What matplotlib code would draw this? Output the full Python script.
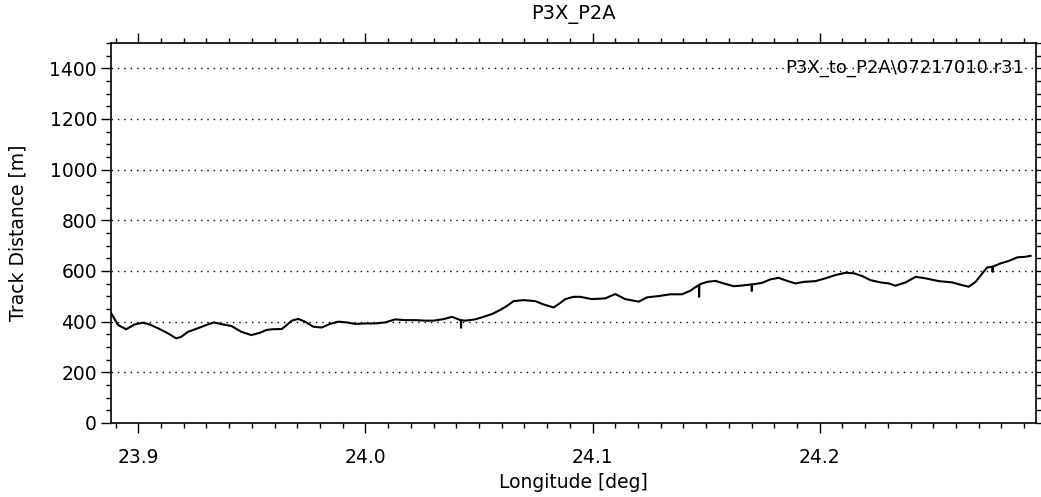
import numpy as np
import matplotlib
matplotlib.use('Agg')
from matplotlib import pyplot as plt
from matplotlib.ticker import MultipleLocator

# traced track (longitude in deg, distance in m)
lon = [23.8881, 23.8911, 23.8947, 23.8984, 23.9021, 23.9050, 23.9087, 23.9131,
       23.9167, 23.9189, 23.9219, 23.9263, 23.9300, 23.9333, 23.9373, 23.9410,
       23.9454, 23.9498, 23.9535, 23.9564, 23.9588, 23.9632, 23.9654, 23.9676,
       23.9705, 23.9734, 23.9771, 23.9808, 23.9844, 23.9881, 23.9918, 23.9955,
       23.9999, 24.0043, 24.0087, 24.0131, 24.0175, 24.0219, 24.0263, 24.0300,
       24.0344, 24.0381, 24.0410, 24.0420, 24.0421, 24.0422, 24.0439, 24.0483,
       24.0520, 24.0557, 24.0593, 24.0623, 24.0652, 24.0696, 24.0748, 24.0784,
       24.0828, 24.0850, 24.0880, 24.0916, 24.0946, 24.0997, 24.1056, 24.1100,
       24.1144, 24.1203, 24.1240, 24.1291, 24.1342, 24.1394, 24.1430, 24.1468,
       24.1469, 24.1470, 24.1474, 24.1504, 24.1540, 24.1577, 24.1621, 24.1651,
       24.1700, 24.1701, 24.1702, 24.1746, 24.1783, 24.1819, 24.1856, 24.1893,
       24.1930, 24.1981, 24.2025, 24.2069, 24.2113, 24.2150, 24.2187, 24.2223,
       24.2267, 24.2304, 24.2333, 24.2378, 24.2422, 24.2466, 24.2524, 24.2583,
       24.2627, 24.2656, 24.2686, 24.2716, 24.2737, 24.2760, 24.2761, 24.2762,
       24.2767, 24.2796, 24.2833, 24.2870, 24.2906, 24.2928]
dist = [433, 387, 370, 389, 396, 389, 374, 354,
        334, 340, 360, 374, 387, 397, 389, 383,
        360, 347, 356, 367, 370, 371, 387, 404,
        411, 400, 380, 377, 391, 400, 397, 391,
        393, 393, 397, 409, 406, 406, 404, 404,
        410, 419, 409, 406, 376, 406, 404, 409,
        419, 430, 446, 462, 481, 485, 481, 468,
        456, 469, 489, 498, 498, 489, 492, 509,
        489, 479, 496, 501, 508, 508, 522, 545,
        498, 546, 548, 557, 561, 551, 540, 542,
        547, 521, 547, 553, 567, 573, 561, 551,
        557, 560, 571, 584, 593, 591, 580, 564,
        555, 551, 542, 555, 577, 571, 560, 555,
        544, 538, 557, 591, 614, 617, 597, 617,
        619, 630, 640, 654, 656, 660]

title = 'P3X_P2A'
file_label = 'P3X_to_P2A\\07217010.r31'

fig = plt.figure(figsize=(10.41, 4.97), dpi=100)
ax = fig.add_axes([0.1066, 0.1489, 0.9952 - 0.1066, 0.9135 - 0.1489])

ax.plot(lon, dist, color='black', linewidth=1.5)

ax.set_xlim(23.888, 24.2952)
ax.set_ylim(0, 1500)
ax.xaxis.set_major_locator(MultipleLocator(0.1))
ax.xaxis.set_minor_locator(MultipleLocator(0.01))
ax.yaxis.set_major_locator(MultipleLocator(200))
ax.yaxis.set_minor_locator(MultipleLocator(50))
ax.xaxis.set_major_formatter(plt.FormatStrFormatter('%.1f'))

ax.tick_params(which='both', direction='out', top=True, right=True,
               labeltop=False, labelright=False, width=1.0, labelsize=13.5)
ax.tick_params(which='major', length=7)
ax.tick_params(which='minor', length=3.5)
ax.tick_params(axis='x', which='major', pad=11)
ax.tick_params(axis='y', which='major', pad=3)
for s in ax.spines.values():
    s.set_linewidth(1.2)

for yv in range(200, 1500, 200):
    ax.axhline(yv, color='black', linewidth=1.0, linestyle=(0, (1, 3.6)), zorder=0)

ax.set_title(title, fontsize=14, pad=17)
ax.set_xlabel('Longitude [deg]', fontsize=13.5, labelpad=4)
ax.set_ylabel('Track Distance [m]', fontsize=13.5, labelpad=16)
ax.text(0.9875, 1400, file_label, transform=ax.get_yaxis_transform(),
        ha='right', va='center', fontsize=13)

fig.savefig('out.png', dpi=100)
